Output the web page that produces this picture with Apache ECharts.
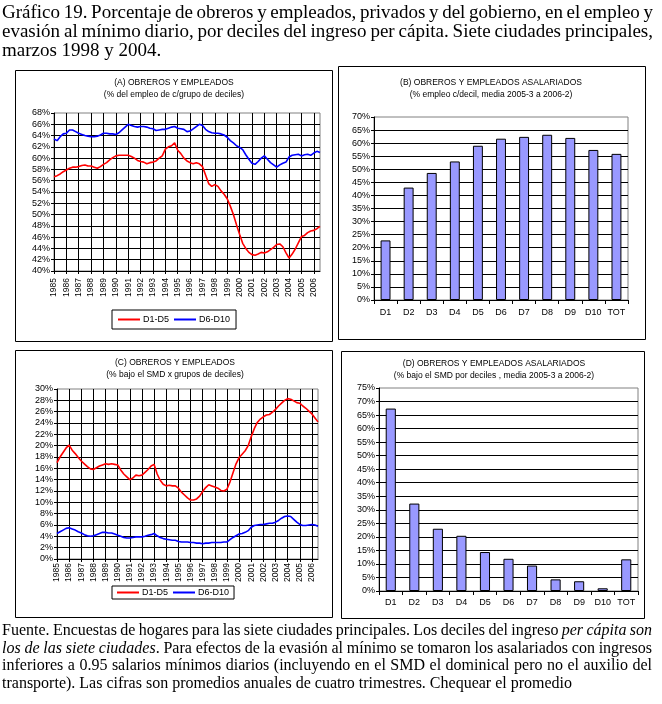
<!DOCTYPE html>
<html><head><meta charset="utf-8">
<script src="https://cdn.jsdelivr.net/npm/echarts@6/dist/echarts.min.js"></script>
<style>
html,body{margin:0;padding:0;background:#fff;}
#wrap{position:relative;width:662px;height:704px;overflow:hidden;background:#fff;}
#chart{position:absolute;left:0;top:0;width:662px;height:704px;}
.txt{position:absolute;left:2px;font-family:"Liberation Serif","Times New Roman",serif;color:#000;}
.ln{white-space:nowrap;display:block;}
.ln span{white-space:nowrap;}
</style></head>
<body><div id="wrap"><div id="chart"></div>
<div class="txt" id="title" style="top:2px;font-size:19px;line-height:19px;">
<div class="ln" data-w="651"><span>Gráfico 19. Porcentaje de obreros y empleados, privados y del gobierno, en el empleo y</span></div>
<div class="ln" data-w="651"><span>evasión al mínimo diario, por deciles del ingreso per cápita. Siete ciudades principales,</span></div>
<div class="ln"><span>marzos 1998 y 2004.</span></div>
</div>
<div class="txt" id="foot" style="top:621px;font-size:16px;line-height:17.7px;">
<div class="ln" data-w="650"><span>Fuente. Encuestas de hogares para las siete ciudades principales. Los deciles del ingreso <i>per cápita son</i></span></div>
<div class="ln" data-w="650"><span><i>los de las siete ciudades</i>. Para efectos de la evasión al mínimo se tomaron los asalariados con ingresos</span></div>
<div class="ln" data-w="650"><span>inferiores a 0.95 salarios mínimos diarios (incluyendo en el SMD el dominical pero no el auxilio del</span></div>
<div class="ln"><span>transporte). Las cifras son promedios anuales de cuatro trimestres. Chequear el promedio</span></div>
</div>
</div>
<script>
// ---------- DATA ----------
const years = [1985,1986,1987,1988,1989,1990,1991,1992,1993,1994,1995,1996,1997,1998,1999,2000,2001,2002,2003,2004,2005,2006];
const deciles = ['D1','D2','D3','D4','D5','D6','D7','D8','D9','D10','TOT'];
const seriesNames = ['D1-D5','D6-D10'];

// (A) % del empleo de c/grupo de deciles (quarterly, 1985-1 .. 2006-3)
const empleoD1D5 = [
 56.7,56.9,57.2,57.6, 57.9,58.2,58.4,58.4, 58.5,58.7,58.8,58.6, 58.6,58.4,58.2,58.5,
 58.9,59.2,59.7,60.1, 60.4,60.5,60.5,60.5, 60.5,60.3,60.0,59.6, 59.4,59.3,59.0,59.2,
 59.3,59.5,60.0,60.4, 61.6,62.0,62.2,62.7, 61.4,60.8,60.0,59.5, 59.2,59.0,59.2,59.0,
 58.5,57.0,55.5,55.0, 55.3,55.0,54.2,53.6, 52.8,51.5,50.0,48.2, 46.5,44.9,44.0,43.3,
 42.9,42.8,43.0,43.3, 43.2,43.4,43.8,44.2, 44.7,44.8,44.3,43.2, 42.3,43.0,43.9,45.0,
 46.1,46.3,46.8,47.1, 47.2,47.5,47.9];
const empleoD6D10 = [
 63.4,63.1,63.8,64.3, 64.4,65.0,65.0,64.7, 64.4,64.2,64.0,63.9, 63.8,63.8,63.9,64.1,
 64.4,64.4,64.3,64.3, 64.2,64.5,65.0,65.5, 66.0,65.8,65.6,65.5, 65.6,65.6,65.5,65.3,
 65.2,64.9,65.0,65.1, 65.1,65.3,65.5,65.6, 65.3,65.2,65.1,64.7, 64.8,65.2,65.6,66.0,
 65.8,65.1,64.7,64.5, 64.4,64.4,64.3,64.1, 63.7,63.1,62.7,62.2, 61.9,61.5,60.6,59.8,
 59.1,58.9,59.4,60.0, 60.4,59.8,59.2,58.8, 58.4,58.8,59.1,59.3, 60.2,60.5,60.6,60.7,
 60.4,60.6,60.7,60.5, 60.9,61.2,61.0];

// (B) % empleo c/decil, media 2005-3 a 2006-2
const empleoDecil = [22.8,43.0,48.6,53.0,59.0,61.7,62.4,63.2,62.0,57.4,55.9];

// (C) % bajo el SMD x grupos de deciles (quarterly)
const smdD1D5 = [
 17.0,18.0,18.8,19.6, 20.1,19.2,18.6,17.9, 17.3,16.8,16.3,15.9, 15.8,16.1,16.4,16.6,
 16.8,16.7,16.8,16.7, 16.6,15.7,15.0,14.5, 14.0,14.3,14.8,14.7, 14.8,15.3,15.8,16.4,
 16.7,15.0,13.9,13.2, 12.9,13.0,12.9,12.9, 12.5,11.8,11.3,10.8, 10.4,10.4,10.6,11.1,
 11.9,12.6,13.1,12.9, 12.7,12.5,12.1,12.0, 12.3,13.6,15.2,16.8, 17.9,18.5,19.1,20.0,
 21.6,23.0,24.1,24.7, 25.1,25.4,25.5,25.9, 26.4,27.0,27.5,28.0, 28.3,28.2,27.9,27.6,
 27.5,27.0,26.6,26.1, 25.6,24.9,24.2];
const smdD6D10 = [
 4.5,4.8,5.1,5.4, 5.5,5.3,5.1,4.8, 4.6,4.3,4.1,4.0, 4.1,4.3,4.5,4.7,
 4.7,4.6,4.6,4.4, 4.2,4.0,3.8,3.7, 3.7,3.8,3.9,3.9, 3.9,4.0,4.2,4.3,
 4.5,4.1,3.8,3.6, 3.5,3.4,3.3,3.3, 3.1,3.0,3.0,3.0, 2.9,2.9,2.8,2.8,
 2.7,2.8,2.8,2.9, 2.9,2.9,2.9,3.0, 3.0,3.4,3.8,4.1, 4.4,4.5,4.7,5.0,
 5.6,5.9,6.0,6.1, 6.1,6.2,6.3,6.3, 6.5,6.8,7.2,7.5, 7.6,7.5,7.0,6.5,
 6.1,5.9,5.9,6.0, 6.1,6.0,5.8];

// (D) % bajo el SMD por deciles, media 2005-3 a 2006-2
const smdDecil = [67.4,32.3,23.0,20.4,14.4,11.9,9.4,4.3,3.6,1.0,11.7];

const panelTitles = [
  ['(A) OBREROS Y EMPLEADOS','(% del empleo de c/grupo de deciles)'],
  ['(B) OBREROS Y EMPLEADOS ASALARIADOS','(% empleo c/decil, media 2005-3 a 2006-2)'],
  ['(C) OBREROS Y EMPLEADOS','(% bajo el SMD x grupos de deciles)'],
  ['(D) OBREROS Y EMPLEADOS ASALARIADOS','(% bajo el SMD por deciles , media 2005-3 a 2006-2)']
];

// quarter categories built from the year list
const quarters = [];
for (const y of years) for (let q = 1; q <= 4; q++) quarters.push(y + '-' + q);
quarters.length = empleoD1D5.length;

// ---------- CHART ----------
const F = '"Liberation Sans", Arial, sans-serif';
const BLK = '#000';
const chart = echarts.init(document.getElementById('chart'));

function gridBox(l, t, w, h) {
  return {left: l, top: t, width: w, height: h, show: true, borderColor: '#808080', borderWidth: 1,
          backgroundColor: 'transparent', containLabel: false, outerBoundsMode: 'none'};
}
function timeAxis(gi, margin) {
  return {type: 'category', gridIndex: gi, data: quarters, boundaryGap: false,
    axisLine: {show: true, lineStyle: {color: BLK, width: 1}},
    axisTick: {show: true, interval: 3, length: 3, lineStyle: {color: BLK}},
    axisLabel: {interval: 3, rotate: 90, margin: margin, fontSize: 8.5, fontFamily: F, color: BLK,
      formatter: v => v.slice(0, 4)},
    splitLine: {show: true, interval: 3, lineStyle: {color: BLK, width: 1}}};
}
function decAxis(gi, margin) {
  return {type: 'category', gridIndex: gi, data: deciles, boundaryGap: true,
    axisLine: {show: true, lineStyle: {color: BLK, width: 1}},
    axisTick: {show: true, length: 4, interval: 0, lineStyle: {color: BLK}},
    axisLabel: {interval: 0, margin: margin, fontSize: 9, fontFamily: F, color: BLK},
    splitLine: {show: false}};
}
function valAxis(gi, min, max, step) {
  return {type: 'value', gridIndex: gi, min: min, max: max, interval: step,
    axisLine: {show: true, lineStyle: {color: BLK, width: 1}},
    axisTick: {show: true, length: 3, lineStyle: {color: BLK}},
    axisLabel: {formatter: '{value}%', margin: 4, fontSize: 9, fontFamily: F, color: BLK},
    splitLine: {show: true, showMaxLine: false, lineStyle: {color: BLK, width: 1}}};
}
function lineS(name, xi, data, color) {
  return {type: 'line', name: name, xAxisIndex: xi, yAxisIndex: xi, data: data, symbol: 'none',
    showSymbol: false, smooth: false, lineStyle: {color: color, width: 1.6}, itemStyle: {color: color},
    animation: false, z: 5};
}
function barS(xi, data) {
  return {type: 'bar', xAxisIndex: xi, yAxisIndex: xi, data: data, barWidth: '43%',
    itemStyle: {color: '#9999FF', borderColor: BLK, borderWidth: 1}, animation: false};
}
function titleText(i, cx, cy) {
  return {type: 'text', x: cx, y: cy, z: 10,
    style: {text: panelTitles[i].join('\n'), align: 'center', verticalAlign: 'middle',
      fontSize: 8.5, fontFamily: F, lineHeight: 12, fill: BLK}};
}
function boxRect(x, y, w, h) {
  return {type: 'rect', shape: {x: x + 0.5, y: y + 0.5, width: w, height: h}, z: -1,
    style: {fill: 'none', stroke: BLK, lineWidth: 1}, silent: true};
}
function legendAt(l, t, pad) {
  return {left: l, top: t, orient: 'horizontal', data: seriesNames, borderColor: BLK, borderWidth: 1,
    padding: pad, icon: 'rect', itemWidth: 22, itemHeight: 2, itemGap: 5, selectedMode: false,
    textStyle: {fontSize: 9, fontFamily: F, color: BLK, padding: [0, 0, 0, -2]}};
}

chart.setOption({
  animation: false,
  backgroundColor: 'transparent',
  grid: [gridBox(54, 113, 266, 158), gridBox(374, 117, 254, 183), gridBox(57, 389, 261, 170), gridBox(379, 388, 259, 203)],
  xAxis: [timeAxis(0, 7), decAxis(1, 8), timeAxis(2, 4), decAxis(3, 7)],
  yAxis: [valAxis(0, 40, 68, 2), valAxis(1, 0, 70, 5), valAxis(2, 0, 30, 2), valAxis(3, 0, 75, 5)],
  legend: [legendAt(112, 310, [5, 6]), legendAt(112, 586, [2, 5])],
  series: [
    lineS(seriesNames[0], 0, empleoD1D5, '#FF0000'),
    lineS(seriesNames[1], 0, empleoD6D10, '#0000FF'),
    barS(1, empleoDecil),
    lineS(seriesNames[0], 2, smdD1D5, '#FF0000'),
    lineS(seriesNames[1], 2, smdD6D10, '#0000FF'),
    barS(3, smdDecil)
  ],
  graphic: [
    boxRect(15, 70, 317, 271), boxRect(338, 66, 307, 273), boxRect(15, 350, 317, 267), boxRect(341, 351, 303, 267),
    titleText(0, 174, 89), titleText(1, 491, 89), titleText(2, 175, 369), titleText(3, 494, 370)
  ]
});

// justify text lines to their target widths
document.querySelectorAll('.ln').forEach(ln => {
  const w = parseFloat(ln.dataset.w || '0');
  if (!w) return;
  const sp = ln.querySelector('span');
  const nat = sp.getBoundingClientRect().width;
  const n = (sp.textContent.match(/ /g) || []).length;
  if (n) sp.style.wordSpacing = ((w - nat) / n) + 'px';
});
</script>
</body></html>
